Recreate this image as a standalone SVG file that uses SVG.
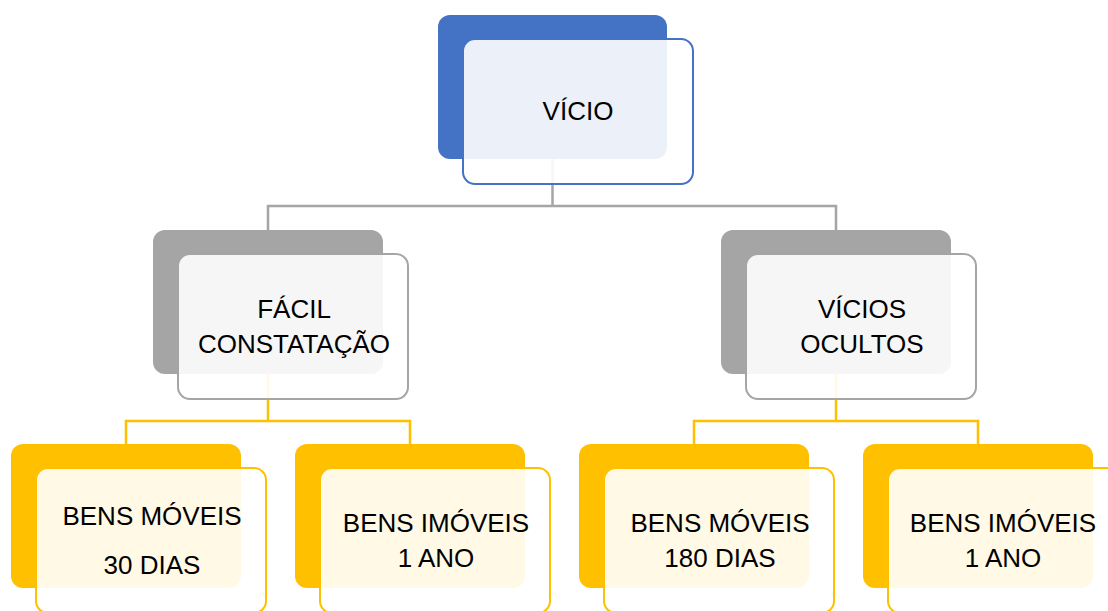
<svg xmlns="http://www.w3.org/2000/svg" width="1108" height="611" viewBox="0 0 1108 611">
<style>
.t{font-family:"Liberation Sans",Arial,sans-serif;font-size:26px;fill:#000;text-anchor:middle}
.front{fill:#fff;fill-opacity:0.9;stroke-width:2}
.blue .back{fill:#4472C4}.blue .front{stroke:#4472C4}
.grey .back{fill:#A5A5A5}.grey .front{stroke:#A5A5A5}
.gold .back{fill:#FFC000}.gold .front{stroke:#FFC000}
.cg{fill:none;stroke:#A5A5A5;stroke-width:2.5}
.cy{fill:none;stroke:#FFC000;stroke-width:2.5}
</style>
<rect width="1108" height="611" fill="#fff"/>
<g id="connectors">
<path class="cg" d="M552.5,158 V206 M268,230 V206 H836 V230"/>
<path class="cy" d="M268,374 V421 M126,444 V421 H410 V444"/>
<path class="cy" d="M836,374 V421 M694,444 V421 H978 V444"/>
</g>
<g id="node-vicio" class="blue">
<rect class="back" x="438" y="15" width="229" height="144" rx="12"/>
<rect class="front" x="463" y="39" width="230" height="145" rx="12"/>
<text class="t" x="578" y="120">VÍCIO</text>
</g>
<g id="node-facil" class="grey">
<rect class="back" x="153" y="230" width="230" height="144" rx="12"/>
<rect class="front" x="178" y="254" width="230" height="145" rx="12"/>
<text class="t" x="294" y="318">FÁCIL</text>
<text class="t" x="294" y="353">CONSTATAÇÃO</text>
</g>
<g id="node-ocultos" class="grey">
<rect class="back" x="721" y="230" width="230" height="144" rx="12"/>
<rect class="front" x="746" y="254" width="230" height="145" rx="12"/>
<text class="t" x="862" y="318">VÍCIOS</text>
<text class="t" x="862" y="353">OCULTOS</text>
</g>
<g id="node-moveis30" class="gold">
<rect class="back" x="11" y="444" width="230" height="144" rx="12"/>
<rect class="front" x="36" y="468" width="230" height="145" rx="12"/>
<text class="t" x="152" y="525">BENS MÓVEIS</text>
<text class="t" x="152" y="574">30 DIAS</text>
</g>
<g id="node-imoveis1" class="gold">
<rect class="back" x="295" y="444" width="230" height="144" rx="12"/>
<rect class="front" x="320" y="468" width="230" height="145" rx="12"/>
<text class="t" x="436" y="532">BENS IMÓVEIS</text>
<text class="t" x="436" y="567">1 ANO</text>
</g>
<g id="node-moveis180" class="gold">
<rect class="back" x="579" y="444" width="230" height="144" rx="12"/>
<rect class="front" x="604" y="468" width="230" height="145" rx="12"/>
<text class="t" x="720" y="532">BENS MÓVEIS</text>
<text class="t" x="720" y="567">180 DIAS</text>
</g>
<g id="node-imoveis1b" class="gold">
<rect class="back" x="863" y="444" width="230" height="144" rx="12"/>
<rect class="front" x="888" y="468" width="230" height="145" rx="12"/>
<text class="t" x="1003" y="532">BENS IMÓVEIS</text>
<text class="t" x="1003" y="567">1 ANO</text>
</g>
</svg>
